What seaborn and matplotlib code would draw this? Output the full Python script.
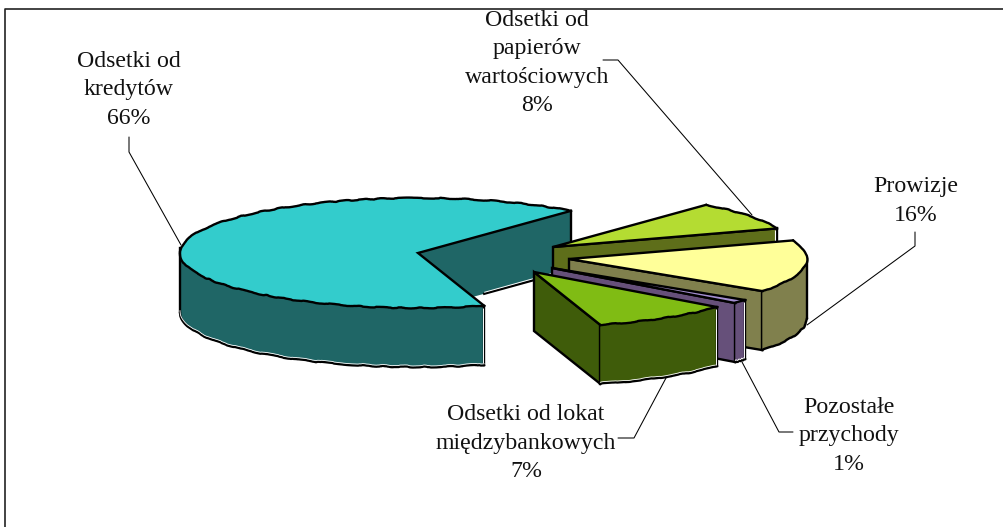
import numpy as np
import matplotlib
matplotlib.use("Agg")
import matplotlib.pyplot as plt
import seaborn as sns

# ---- data ----
names = ["Odsetki od\nkredytów", "Odsetki od\npapierów\nwartościowych", "Prowizje",
         "Pozostałe\nprzychody", "Odsetki od lokat\nmiędzybankowych"]
percent_labels = ["66%", "8%", "16%", "1%", "7%"]
shares = [65.6, 8.4, 15.4, 1.1, 9.5]   # drawn slice sizes as measured in the 3-D pie

# ---- styling / layout ----
top_colors = ["#33CCCC", "#B4DC32", "#FFFF99", "#A48FD0", "#80BC14"]
side_colors = ["#1F6666", "#5E6E1A", "#80804D", "#66507A", "#3F5C0A"]
centers = [(418, 253), (553, 247), (569, 259), (552, 268), (534, 272)]
RX, RY, DEPTH = 238, 55, 59
START_ANGLE = 50.0
label_pos = [(129, 90), (537, 63), (916, 201), (849, 436), (526, 443)]
leaders = [[(129, 137), (129, 152), (181, 245)],
           [(603, 60), (618, 60), (752, 215)],
           [(915, 232), (915, 246), (807, 325)],
           [(742, 362), (779, 432), (793, 432)],
           [(618, 438), (634, 438), (666, 378)]]

sns.set_theme(style="white")
plt.rcParams["font.family"] = ["Liberation Serif", "DejaVu Serif"]
palette_top = sns.color_palette(top_colors)
palette_side = sns.color_palette(side_colors)

fig = plt.figure(figsize=(10.04, 5.27), dpi=100, facecolor="white")
ax = fig.add_axes([0, 0, 1, 1])
ax.set_xlim(0, 1004)
ax.set_ylim(527, 0)
ax.axis("off")

LW = 1.7
SKETCH = (0.5, 45, 8)
_z = [1.0]


def z():
    _z[0] += 0.01
    return _z[0]


def ell(c, t):
    t = np.radians(t)
    return c[0] + RX * np.cos(t), c[1] - RY * np.sin(t)


def arc(c, a, b, n=80):
    return ell(c, np.linspace(a, b, n))


def straight(xs, ys, color="black", lw=LW):
    ax.plot(xs, ys, color=color, lw=lw, zorder=z(), solid_joinstyle="miter",
            solid_capstyle="projecting" if color == "black" else "butt")


def wavy(xs, ys, color="black", lw=LW):
    line, = ax.plot(xs, ys, color=color, lw=lw, zorder=z(), solid_capstyle="round",
                    solid_joinstyle="round")
    line.set_sketch_params(*SKETCH)


def wall(c, t, col):
    x, y = ell(c, t)
    ax.fill([c[0], x, x, c[0]], [c[1], y, y + DEPTH, c[1] + DEPTH], color=col, lw=0, zorder=z())


def band(xs, ys, col):
    ax.fill(np.r_[xs, xs[::-1]], np.r_[ys, ys[::-1] + DEPTH], color=col, lw=0, zorder=z())


def top(c, a, b, col):
    tx, ty = arc(c, a, b, 200)
    ax.fill(np.r_[c[0], tx], np.r_[c[1], ty], color=col, lw=0, zorder=z())
    wavy(tx, ty)
    straight([tx[0], c[0], tx[-1]], [ty[0], c[1], ty[-1]])


# angular limits, from the start angle: big slice counter-clockwise, all others clockwise
spans = np.array(shares) / np.sum(shares) * 360.0
main_end = START_ANGLE + spans[0]
lows = START_ANGLE - np.cumsum(spans[1:])
highs = lows + spans[1:]

# big slice
c, ts, sd = centers[0], palette_top[0], palette_side[0]
wall(c, START_ANGLE, sd)
wall(c, main_end, sd)
sx, sy = arc(c, 180, main_end)
band(sx, sy, sd)
wx, wy = ell(c, START_ANGLE)
fx, fy = ell(c, main_end)
gy = c[1] + DEPTH + (wy - c[1]) * (fx - c[0]) / (wx - c[0])
straight([wx, wx], [wy, wy + DEPTH])
straight([wx, fx], [wy + DEPTH, gy])
straight([wx - 1.2, fx], [wy + DEPTH - 1.4, gy - 1.4], color="white", lw=0.7)
top(c, START_ANGLE, main_end, ts)
lx, ly = ell(c, 180)
straight([lx, lx], [ly - 5, ly + DEPTH])
straight([fx, fx], [fy, fy + DEPTH])
straight([fx - 1.5, fx - 1.5], [fy + 2, fy + DEPTH - 1.5], color="white", lw=0.7)
wavy(sx, sy + DEPTH)
wavy(sx, sy + DEPTH - 1.5, color="white", lw=0.6)

# the four slices pulled out to the right
for i, (hi, lo) in enumerate(zip(highs, lows), start=1):
    c = centers[i]
    wall(c, lo, palette_side[i])
    x, y = ell(c, lo)
    straight([x, c[0], c[0], x], [y + DEPTH, c[1] + DEPTH, c[1], y])
    straight([x, x], [y, y + DEPTH])
    if i == 1:
        straight([x - 1.8, x - 1.8], [y + 2, y + DEPTH], color="white", lw=0.8)
    # the curved outer side only shows where it faces the viewer
    if lo < 0:
        side_hi = min(hi, 0.0)
        sx, sy = arc(c, side_hi, lo)
        band(sx, sy, palette_side[i])
        wavy(sx, sy + DEPTH)
        if i >= 3:
            wavy(sx, sy + DEPTH - 1.5, color="white", lw=0.6)
        rx, ry = ell(c, side_hi)
        straight([rx, rx], [ry, ry + DEPTH])
        if i >= 3:
            straight([rx - 1.5, rx - 1.5], [ry + 2, ry + DEPTH - 1.5], color="white", lw=0.7)
    top(c, hi, lo, palette_top[i])

# leader lines
for pts in leaders:
    xs, ys = zip(*pts)
    ax.plot(xs, ys, color="black", lw=0.75, zorder=0.5)

# labels
for name, pct, (x, y) in zip(names, percent_labels, label_pos):
    ax.text(x, y, f"{name}\n{pct}", ha="center", va="center", fontsize=17.2,
            color="#111111", linespacing=1.45, zorder=5)

# chart frame (top and left edges)
ax.plot([1004, 5, 5], [9, 9, 527], color="#222222", lw=1.2, zorder=0.4, clip_on=False)

fig.savefig("out.png", dpi=100)
